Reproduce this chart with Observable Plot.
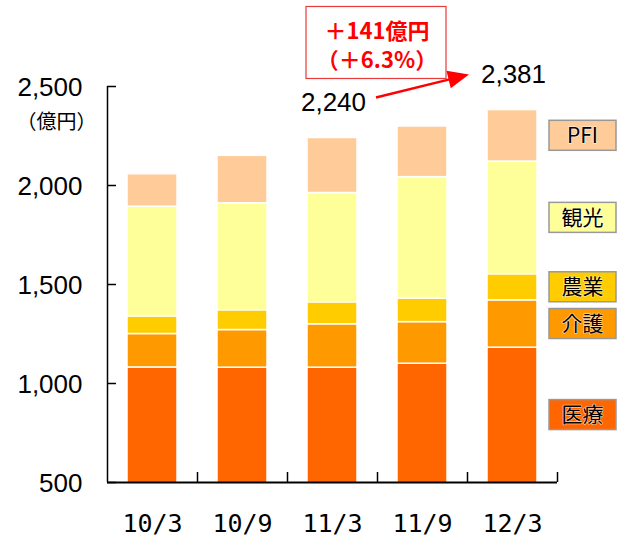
<!DOCTYPE html>
<html><head><meta charset="utf-8">
<script src="https://cdn.jsdelivr.net/npm/d3@7"></script>
<script src="https://cdn.jsdelivr.net/npm/@observablehq/plot@0.6"></script>
<style>
html,body{margin:0;padding:0;background:#fff;}
#chart svg{display:block;}
#chart svg text{text-spacing-trim: space-all; font-kerning: none;}
</style></head><body><div id="chart"></div>
<script>
// ---- data ----
const categories = ["10/3", "10/9", "11/3", "11/9", "12/3"];
const series = ["医療", "介護", "農業", "観光", "PFI"];
const iryo  = [1081, 1080, 1080, 1100, 1181];
const kaigo = [169, 190, 219, 210, 239];
const nogyo = [89, 100, 111, 119, 132];
const kanko = [554, 540, 552, 613, 569];
const pfi   = [164, 240, 278, 256, 260];
const colors = ["#FF6600", "#FF9900", "#FFCC00", "#FFFF99", "#FFCC99"];
const yTicks = [500, 1000, 1500, 2000, 2500];
const yUnit = "（億円）";
const labeledCats = ["11/3", "12/3"];
const changeLines = ["＋141億円", "（＋6.3%）"];

const seriesValues = [iryo, kaigo, nogyo, kanko, pfi];
const table = [];
categories.forEach((c, i) => series.forEach((s, j) => table.push({cat: c, series: s, value: seriesValues[j][i]})));
const totals = categories.map((c, i) => ({cat: c, total: d3.sum(seriesValues, v => v[i])}));
const labeledTotals = totals.filter(d => labeledCats.includes(d.cat));

const W = 617, H = 536, mL = 107, mR = 60, mT = 86, mB = 54;
const yMin = 500, yMax = 2500;
const pxPerUnit = (H - mT - mB) / (yMax - yMin);
const halfBox = 15 / pxPerUnit;
const lastIdx = categories.length - 1;
let acc = 0;
const legend = series.map((s, j) => {
  const v = seriesValues[j][lastIdx];
  const lo = Math.max(acc, yMin), hi = acc + v;
  const mid = (lo + hi) / 2; acc = hi;
  return {series: s, cat: categories[lastIdx], mid, y1: mid - halfBox, y2: mid + halfBox};
});

const NUM = "Liberation Sans, Arial, sans-serif";
const JP = "'Noto Sans CJK JP', sans-serif";

const chart = Plot.plot({
  width: W, height: H,
  marginLeft: mL, marginRight: mR, marginTop: mT, marginBottom: mB,
  x: {type: "band", domain: categories, padding: 0, axis: null},
  y: {domain: [yMin, yMax], axis: null},
  color: {domain: series, range: colors},
  style: {fontFamily: NUM, background: "#fff"},
  marks: [
    Plot.barY(table, {x: "cat", y: "value", fill: "series", order: series, clip: true,
      insetLeft: 20, insetRight: 20, stroke: "#fff", strokeWidth: 1.5}),
    // axes lines
    Plot.ruleY([yMin], {stroke: "#000", strokeWidth: 2}),
    Plot.ruleX([categories[0]], {x: d => d, dx: -45, y1: yMin, y2: yMax, stroke: "#000", strokeWidth: 1.5}),
    Plot.tickY(yTicks, {y: d => d, x: () => categories[0], insetRight: 81, stroke: "#000", strokeWidth: 1.5}),
    Plot.ruleX(categories, {x: d => d, dx: 45, y1: yMin, y2: yMin + 10 / pxPerUnit, stroke: "#000", strokeWidth: 1.5}),
    // y tick labels
    Plot.text(yTicks, {y: d => d, x: () => categories[0], dx: -70, dy: 1, text: d => d3.format(",")(d),
      textAnchor: "end", fontSize: 26, fontFamily: NUM, fill: "#000"}),
    Plot.text([yUnit], {y: () => yMax, x: () => categories[0], dx: -56, dy: 36, text: d => d,
      textAnchor: "end", fontSize: 20, fontFamily: JP, fill: "#000"}),
    // x labels
    Plot.text(categories, {x: d => d, y: () => yMin, dy: 41, text: d => d,
      fontSize: 25, fontFamily: "DejaVu Sans Mono, monospace", fill: "#000"}),
    // totals
    Plot.text(labeledTotals, {x: "cat", y: "total", dy: -35, dx: 1, text: d => d3.format(",")(d.total),
      fontSize: 26, fontFamily: NUM, fill: "#000"}),
    // legend boxes
    Plot.barY(legend, {x: "cat", y1: "y1", y2: "y2", fill: "series", dx: 82, insetRight: 23,
      stroke: "#999", strokeWidth: 1.5}),
    Plot.text(legend, {x: "cat", y: "mid", text: "series", dx: 70, fontSize: 21, fontFamily: JP,
      fill: "#000", stroke: "#fff", strokeWidth: 1.5, strokeOpacity: 0.6})
  ]
});

// ---- annotation (arrow + red box), placed from the chart's own scales ----
const xs = chart.scale("x"), ys = chart.scale("y");
const cx = c => xs.apply(c) + xs.bandwidth / 2;
const a = totals.find(d => d.cat === labeledCats[0]), b = totals.find(d => d.cat === labeledCats[1]);
const start = [cx(a.cat) + 44, ys.apply(a.total) - 40];
const tip = [cx(b.cat) - 43, ys.apply(b.total) - 35];
const ang = Math.atan2(tip[1] - start[1], tip[0] - start[0]);
const hl = 21, hw = 9;
const base = [tip[0] - hl * Math.cos(ang), tip[1] - hl * Math.sin(ang)];
const sel = d3.select(chart);
const g = sel.append("g").attr("aria-label", "annotation");
g.append("line").attr("x1", start[0]).attr("y1", start[1]).attr("x2", base[0] + 2 * Math.cos(ang)).attr("y2", base[1] + 2 * Math.sin(ang))
  .attr("stroke", "#FF0000").attr("stroke-width", 2.5);
g.append("path").attr("d", `M${tip[0]},${tip[1]}L${base[0] - hw * Math.sin(ang)},${base[1] + hw * Math.cos(ang)}L${base[0] + hw * Math.sin(ang)},${base[1] - hw * Math.cos(ang)}Z`)
  .attr("fill", "#FF0000");
g.append("rect").attr("x", start[0] - 70).attr("y", start[1] - 91).attr("width", 140).attr("height", 72)
  .attr("fill", "#fff").attr("stroke", "#E83A3A").attr("stroke-width", 1.2);
changeLines.forEach((t, i) => {
  g.append("text").attr("x", start[0] + 1).attr("y", start[1] - 66 + i * 29).attr("dy", "0.35em")
    .attr("text-anchor", "middle").attr("font-family", JP).attr("font-weight", "bold")
    .attr("font-size", 22).attr("fill", "#FF0000").text(t);
});

document.getElementById("chart").appendChild(chart);
</script>
</body></html>
